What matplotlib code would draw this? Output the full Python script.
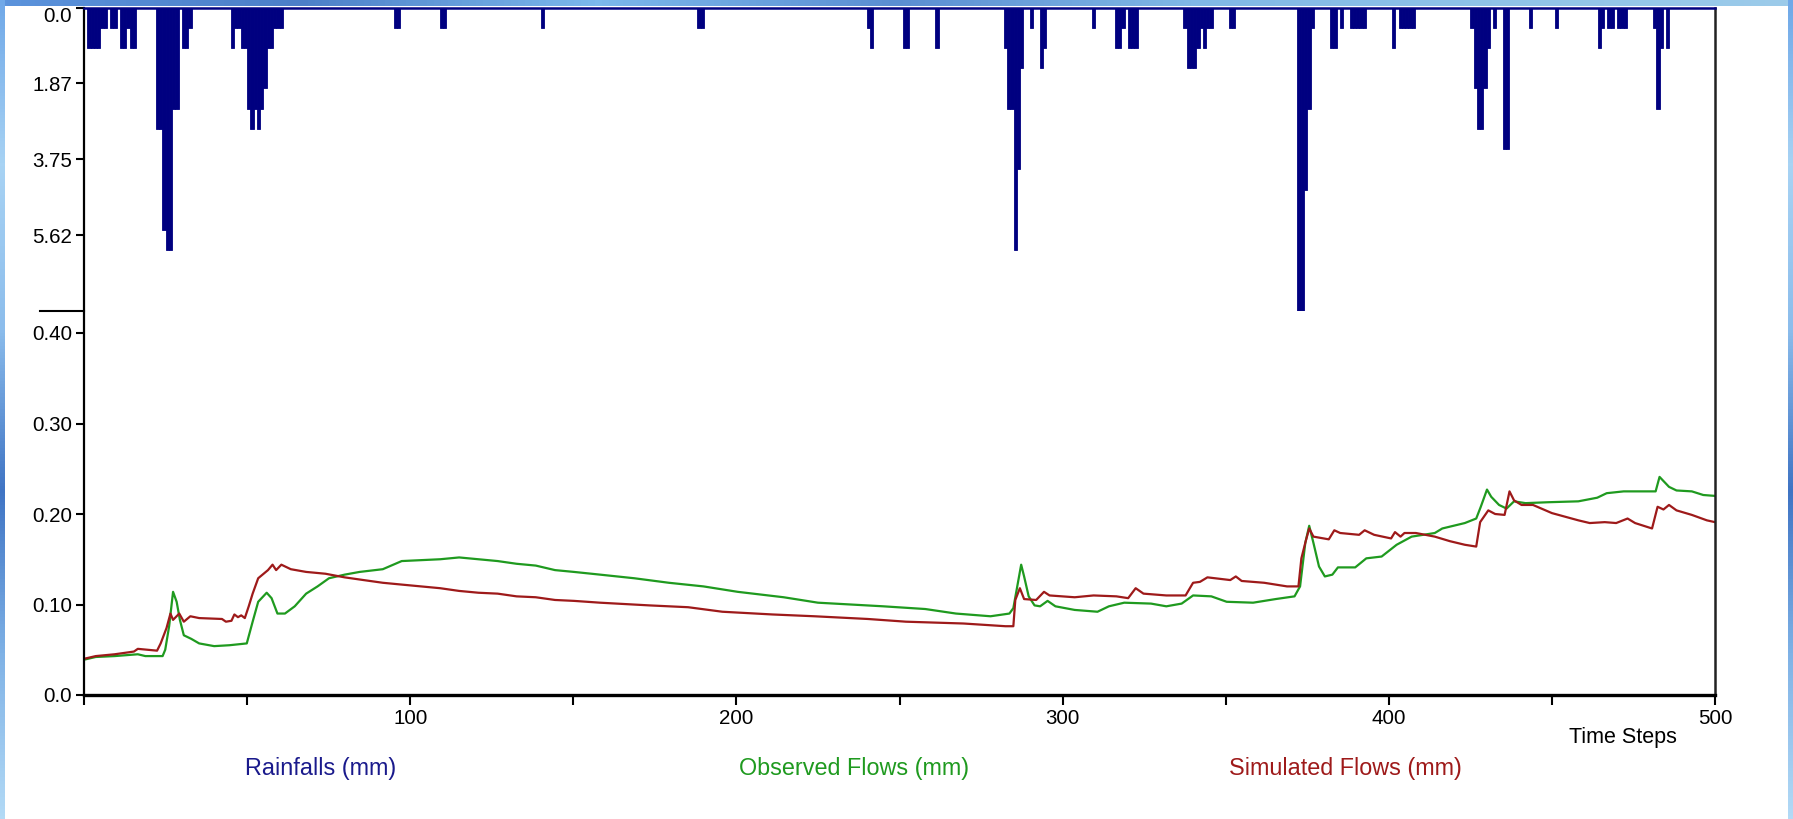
import numpy as np
import matplotlib.pyplot as plt
from matplotlib.lines import Line2D
from matplotlib.colors import LinearSegmentedColormap

plt.rcParams['font.family'] = ['Liberation Sans', 'DejaVu Sans']

W, H = 1793, 819

# rainfall per time step (mm), only the non-zero steps
rain_step = [1, 2, 3, 4, 5, 6, 8, 9, 11, 12, 13, 14, 15,
             22, 23, 24, 25, 26, 27, 28, 30, 31, 32,
             45, 46, 47, 48, 49, 50, 51, 52, 53, 54, 55, 56, 57, 58, 59, 60,
             95, 96, 109, 110, 140, 188, 189, 240, 241, 251, 252, 261,
             282, 283, 284, 285, 286, 287, 290, 293, 294, 309,
             316, 317, 318, 320, 321, 322,
             337, 338, 339, 340, 341, 342, 343, 344, 345, 351, 352,
             372, 373, 374, 375, 376, 382, 383, 385, 388, 389, 390, 391, 392,
             401, 403, 404, 405, 406, 407,
             425, 426, 427, 428, 429, 430, 432, 435, 436, 443, 451,
             464, 465, 467, 468, 470, 471, 472, 481, 482, 483, 485]
rain_mm = [1.0, 1.0, 1.0, 1.0, 0.5, 0.5, 0.5, 0.5, 1.0, 1.0, 0.5, 1.0, 1.0,
           3.0, 3.0, 5.5, 6.0, 6.0, 2.5, 2.5, 1.0, 1.0, 0.5,
           1.0, 0.5, 0.5, 1.0, 1.0, 2.5, 3.0, 2.5, 3.0, 2.5, 2.0, 1.0, 1.0, 0.5, 0.5, 0.5,
           0.5, 0.5, 0.5, 0.5, 0.5, 0.5, 0.5, 0.5, 1.0, 1.0, 1.0, 1.0,
           1.0, 2.5, 2.5, 6.0, 4.0, 1.5, 0.5, 1.5, 1.0, 0.5,
           1.0, 1.0, 0.5, 1.0, 1.0, 1.0,
           0.5, 1.5, 1.5, 1.5, 1.0, 0.5, 1.0, 0.5, 0.5, 0.5, 0.5,
           7.5, 7.5, 4.5, 2.5, 0.5, 1.0, 1.0, 0.5, 0.5, 0.5, 0.5, 0.5, 0.5,
           1.0, 0.5, 0.5, 0.5, 0.5, 0.5,
           0.5, 2.0, 3.0, 3.0, 2.0, 1.0, 0.5, 3.5, 3.5, 0.5, 0.5,
           1.0, 0.5, 0.5, 0.5, 0.5, 0.5, 0.5, 0.5, 2.5, 1.0, 1.0]

# observed flows (mm)
obs_step = [0, 3.6, 9.4, 16.5, 18.8, 24.1, 24.9, 26.1, 27.3, 28.4, 29.4, 30.6, 32.9, 35.3,
            39.9, 44.6, 49.9, 51.7, 53.4, 56.0, 57.5, 59.3, 61.6, 64.6, 68.1, 71.6, 75.1,
            79.9, 84.5, 91.6, 97.4, 103.3, 109.2, 115.0, 120.9, 126.8, 132.6, 138.5, 144.4,
            150.2, 158.2, 168.7, 179.3, 189.9, 200.4, 214.5, 225.0, 245.0, 257.9, 267.3,
            277.9, 283.7, 284.9, 286.1, 287.3, 288.2, 289.6, 291.4, 293.1, 295.4, 297.8,
            303.7, 310.7, 314.2, 318.9, 327.1, 331.8, 336.5, 340.0, 345.6, 350.3, 358.4,
            365.3, 371.1, 372.8, 374.4, 375.6, 376.9, 378.6, 380.4, 382.7, 384.4, 389.7,
            393.1, 397.8, 402.4, 407.0, 414.1, 416.4, 423.3, 426.8, 428.2, 430.1, 431.4,
            433.8, 436.1, 438.4, 441.9, 448.8, 458.1, 463.9, 466.8, 472.0, 481.8, 483.0,
            485.9, 488.2, 492.9, 496.4, 500]
obs_mm = [0.039, 0.042, 0.043, 0.045, 0.043, 0.043, 0.050, 0.076, 0.114, 0.103, 0.083, 0.066,
          0.062, 0.057, 0.054, 0.055, 0.057, 0.081, 0.103, 0.113, 0.107, 0.090, 0.090, 0.098,
          0.112, 0.120, 0.129, 0.133, 0.136, 0.139, 0.148, 0.149, 0.150, 0.152, 0.150, 0.148,
          0.145, 0.143, 0.138, 0.136, 0.133, 0.129, 0.124, 0.120, 0.114, 0.108, 0.102, 0.098,
          0.095, 0.090, 0.087, 0.090, 0.096, 0.120, 0.144, 0.131, 0.109, 0.099, 0.098, 0.104,
          0.098, 0.094, 0.092, 0.098, 0.102, 0.101, 0.098, 0.101, 0.110, 0.109, 0.103, 0.102,
          0.106, 0.109, 0.120, 0.168, 0.187, 0.168, 0.142, 0.131, 0.133, 0.141, 0.141, 0.151,
          0.153, 0.166, 0.175, 0.179, 0.184, 0.190, 0.195, 0.208, 0.227, 0.219, 0.210, 0.206,
          0.214, 0.212, 0.213, 0.214, 0.218, 0.223, 0.225, 0.225, 0.241, 0.230, 0.226, 0.225,
          0.221, 0.220]

# simulated flows (mm)
sim_step = [0, 3.6, 9.4, 15.3, 16.5, 22.4, 23.5, 25.3, 26.5, 27.3, 29.2, 30.6, 32.6, 35.3,
            42.3, 43.5, 45.2, 46.1, 47.2, 48.2, 49.3, 50.5, 51.7, 53.4, 56.4, 57.8, 58.9,
            60.5, 63.4, 68.1, 74.0, 79.9, 85.7, 91.6, 97.4, 103.3, 109.2, 115.0, 120.9,
            126.8, 132.6, 138.5, 144.4, 150.2, 158.2, 173.4, 185.2, 195.7, 211.0, 223.9,
            240.3, 252.0, 269.6, 282.5, 284.9, 285.5, 286.9, 288.2, 291.9, 294.3, 296.0,
            303.7, 309.5, 316.5, 320.1, 322.4, 324.8, 331.8, 337.7, 340.0, 342.1, 344.4,
            351.4, 353.1, 354.9, 361.8, 368.8, 372.3, 373.2, 374.6, 375.6, 376.9, 381.6,
            383.3, 385.1, 390.9, 392.6, 395.5, 400.7, 401.9, 403.6, 404.8, 408.3, 414.1,
            418.7, 423.3, 426.8, 428.0, 430.5, 432.6, 435.5, 437.0, 438.4, 440.7, 444.2,
            450.0, 458.1, 461.6, 466.2, 469.7, 473.2, 475.5, 480.7, 482.4, 484.2, 485.9,
            488.2, 492.9, 497.5, 500]
sim_mm = [0.040, 0.043, 0.045, 0.048, 0.051, 0.049, 0.057, 0.074, 0.090, 0.083, 0.090, 0.081,
          0.087, 0.085, 0.084, 0.081, 0.082, 0.089, 0.086, 0.088, 0.085, 0.098, 0.112, 0.129,
          0.138, 0.144, 0.138, 0.144, 0.139, 0.136, 0.134, 0.130, 0.127, 0.124, 0.122, 0.120,
          0.118, 0.115, 0.113, 0.112, 0.109, 0.108, 0.105, 0.104, 0.102, 0.099, 0.097, 0.092,
          0.089, 0.087, 0.084, 0.081, 0.079, 0.076, 0.076, 0.105, 0.118, 0.106, 0.105, 0.114,
          0.110, 0.108, 0.110, 0.109, 0.107, 0.118, 0.112, 0.110, 0.110, 0.124, 0.125, 0.130,
          0.127, 0.131, 0.126, 0.124, 0.120, 0.120, 0.151, 0.171, 0.184, 0.175, 0.172, 0.182,
          0.179, 0.177, 0.182, 0.177, 0.173, 0.180, 0.175, 0.179, 0.179, 0.175, 0.170, 0.166,
          0.164, 0.191, 0.204, 0.200, 0.199, 0.225, 0.215, 0.210, 0.210, 0.201, 0.193, 0.190,
          0.191, 0.190, 0.195, 0.190, 0.184, 0.208, 0.205, 0.210, 0.204, 0.199, 0.193, 0.191]

rain_ticks = [0, 1.875, 3.75, 5.625]
rain_labels = ['0.0', '1.87', '3.75', '5.62']
flow_ticks = [0, 0.1, 0.2, 0.3, 0.4]
flow_labels = ['0.0', '0.10', '0.20', '0.30', '0.40']

navy = '#000080'
green = '#1f9a1f'
red = '#9e1a1a'

fig = plt.figure(figsize=(W / 100, H / 100), dpi=100)
fig.patch.set_facecolor('white')

# blue window border around the screenshot
bg = fig.add_axes([0, 0, 1, 1], zorder=-5)
bg.set_axis_off()
bg.set_xlim(0, W)
bg.set_ylim(H, 0)
top_cm = LinearSegmentedColormap.from_list('top', ['#5b93dc', '#4c7fc8', '#7cb9ec', '#5a8ed2',
                                                   '#80b8e6', '#8fc3e8', '#9ccbea'])
side_cm = LinearSegmentedColormap.from_list('side', ['#6fa8e8', '#a8d3f4', '#8cbdec',
                                                     '#3f74c4', '#7fb2e6', '#b3daf6'])
grad = np.linspace(0, 1, 256)
bg.imshow(grad[None, :], cmap=top_cm, extent=[0, W, 6, 0], aspect='auto')
bg.imshow(grad[:, None], cmap=side_cm, extent=[0, 5, H, 0], aspect='auto')
bg.imshow(grad[:, None], cmap=side_cm, extent=[W - 5, W, H, 0], aspect='auto')

x0, x1 = 84 / W, 1715 / W
yb, yt, yr = 1 - 695 / H, 1 - 7.5 / H, 1 - 311 / H

# flows axes (full plot area)
ax = fig.add_axes([x0, yb, x1 - x0, yt - yb])
ax.set_xlim(0, 500)
ax.set_ylim(0, (695 - 7.5) / 905)
ax.plot(obs_step, obs_mm, color=green, lw=1.6)
ax.plot(sim_step, sim_mm, color=red, lw=1.6)

ax.set_yticks(flow_ticks, flow_labels)
xt = list(range(0, 501, 50))
ax.set_xticks(xt, [str(v) if v % 100 == 0 and v > 0 else '' for v in xt])
ax.tick_params(axis='y', length=6, width=1.5, pad=2.5, labelsize=14.8)
ax.tick_params(axis='x', length=7, width=1.5, pad=3, labelsize=14.8)
for lab in ax.get_yticklabels():
    lab.set_va('center_baseline')
ax.spines['top'].set_visible(False)
ax.spines['left'].set_linewidth(1.6)
ax.spines['bottom'].set_linewidth(2.4)
ax.spines['right'].set_linewidth(1.8)
ax.spines['right'].set_color('#222222')

# rainfall axes (hanging from the top)
ax_r = fig.add_axes([x0, yr, x1 - x0, yt - yr])
ax_r.patch.set_alpha(0)
ax_r.set_xlim(0, 500)
ax_r.set_ylim(7.5, 0)
ax_r.bar(rain_step, rain_mm, width=1.0, align='edge', color=navy, edgecolor=navy, linewidth=0.6)
ax_r.set_xticks([])
ax_r.set_yticks(rain_ticks, rain_labels)
ax_r.tick_params(axis='y', length=6, width=1.5, pad=2.5, labelsize=14.8)
for lab in ax_r.get_yticklabels():
    lab.set_va('center_baseline')
ax_r.get_yticklabels()[0].set_va('top')
for s in ['left', 'right', 'bottom']:
    ax_r.spines[s].set_visible(False)
ax_r.spines['top'].set_color(navy)
ax_r.spines['top'].set_linewidth(1.8)

# end mark of the rainfall scale
fig.add_artist(Line2D([40 / W, 84 / W], [yr, yr], color='black', lw=1.5))

fig.text(1623 / W, 1 - 738 / H, 'Time Steps', ha='center', va='center', fontsize=15.5)
fig.text(321 / W, 1 - 769 / H, 'Rainfalls (mm)', color='#1a1a8c', ha='center', va='center', fontsize=16.8)
fig.text(854 / W, 1 - 769 / H, 'Observed Flows (mm)', color=green, ha='center', va='center', fontsize=16.8)
fig.text(1345 / W, 1 - 769 / H, 'Simulated Flows (mm)', color=red, ha='center', va='center', fontsize=16.8)

fig.savefig('out.png', dpi=100, facecolor='white')
